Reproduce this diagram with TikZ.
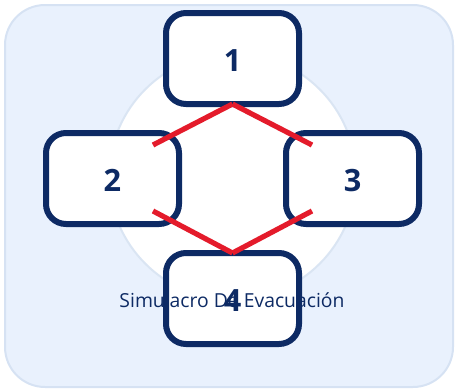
\documentclass[tikz,border=0pt]{standalone}
\usepackage{fontspec}
\setmainfont{Open Sans}
\definecolor{drillnavy}{RGB}{13, 42, 100}
\definecolor{drillred}{RGB}{228, 27, 43}
\definecolor{panelfill}{RGB}{233, 241, 253}
\definecolor{panelline}{RGB}{214, 226, 243}
\definecolor{ringline}{RGB}{218, 229, 243}
\usetikzlibrary{calc}

\begin{document}
\begin{tikzpicture}[
    x=0.75pt, y=-0.75pt,
    panel/.style={draw=panelline, line width=1.5pt, fill=panelfill, rounded corners=30pt},
    ring/.style={circle, draw=ringline, line width=1.5pt, fill=white, minimum size=185pt, inner sep=0pt},
    numbox/.style={rectangle, draw=drillnavy, line width=4.5pt, fill=white, rounded corners=15pt,
        minimum width=99.75pt, minimum height=68.25pt, outer sep=0pt, text=drillnavy,
        text height=19.5pt, text depth=0pt,
        font=\fontsize{23}{28}\selectfont\bfseries},
    boxline/.style={draw=drillnavy, line width=4.5pt, rounded corners=15pt},
    redlink/.style={drillred, line width=3.9pt},
    caption/.style={text=drillnavy, font=\fontsize{14.5}{18}\selectfont, inner sep=0pt}
]
    \useasboundingbox (0,0) rectangle (456,389);
    \draw[panel] (5,5) rectangle (453,387);
    \node[ring] (ring) at (232.5,176.5) {};

    \node[numbox] (b1) at (232.5,58.5) {1};
    \node[numbox] (b2) at (112.5,178.5) {2};
    \node[numbox] (b3) at (352.5,178.5) {3};
    \node[numbox, draw=none] (b4) at (232.5,298.5) {4};

    % caption sits under the border of box 4
    \node[caption] (title) at (232,300) {Simulacro De Evacuación};
    \draw[boxline] (b4.south west) rectangle (b4.north east);

    % red links between the boxes
    \coordinate (t2) at ($(b2.north east)+(-26,12)$);
    \coordinate (t3) at ($(b3.north west)+(26,12)$);
    \coordinate (s2) at ($(b2.south east)+(-26,-13)$);
    \coordinate (s3) at ($(b3.south west)+(26,-13)$);
    \draw[redlink] (t2) -- (b1.south);
    \draw[redlink] (b1.south) -- (t3);
    \draw[redlink] (s2) -- (b4.north);
    \draw[redlink] (b4.north) -- (s3);
\end{tikzpicture}
\end{document}
